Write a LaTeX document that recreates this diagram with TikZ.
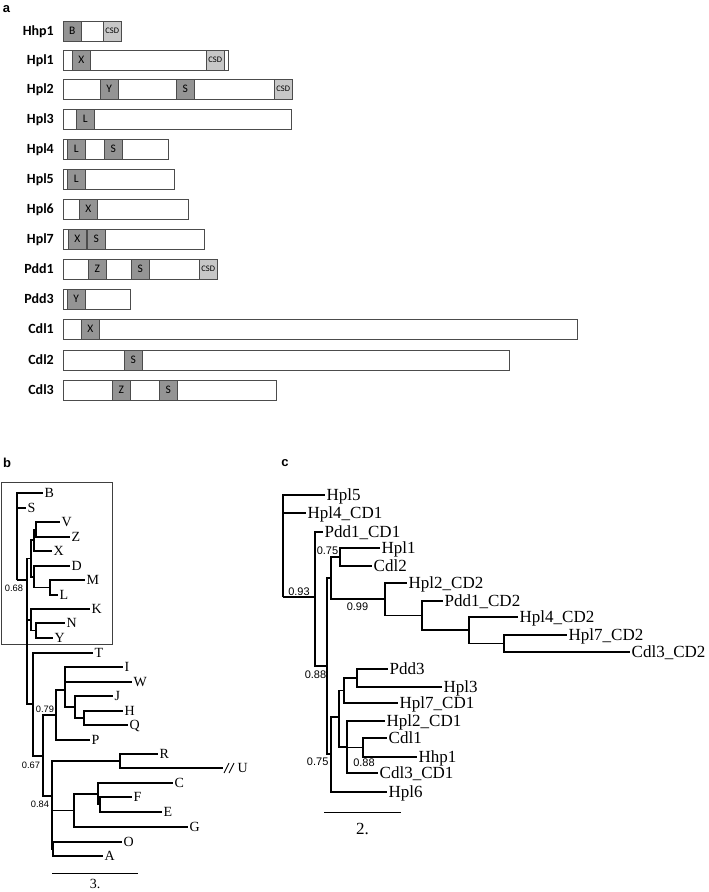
\documentclass[tikz,border=0pt]{standalone}
\usepackage{fontspec}
\setmainfont{Liberation Serif}
\setsansfont{Liberation Sans}
\newfontfamily\calibri{Carlito}

\tikzset{
  protname/.style={anchor=east, inner sep=0pt, text height=9pt, text depth=0pt,
    font=\calibri\bfseries\fontsize{14}{14}\selectfont},
  protbar/.style={draw=black!70, line width=1pt, fill=white, anchor=west,
    minimum height=20pt, inner sep=0pt},
  dombox/.style={protbar, fill=black!42, font=\calibri\fontsize{11.5}{11.5}\selectfont},
  csdbox/.style={protbar, fill=black!22, font=\calibri\fontsize{8.5}{8.5}\selectfont},
  branch/.style={line width=1.4pt},
  bleaf/.style={anchor=west, inner sep=1.5pt, text height=9.3pt, text depth=0pt,
    font=\fontsize{14}{14}\selectfont},
  cleaf/.style={anchor=west, inner sep=1.5pt, text height=11.2pt, text depth=0pt,
    font=\fontsize{17}{17}\selectfont},
  bsupp/.style={inner sep=0pt, font=\sffamily\fontsize{9.3}{9.3}\selectfont},
  csupp/.style={inner sep=0pt, font=\sffamily\fontsize{11}{11}\selectfont},
  panel/.style={inner sep=0pt, font=\sffamily\bfseries\fontsize{13}{13}\selectfont}
}

\begin{document}
\begin{tikzpicture}[x=1pt, y=-1pt]
  \useasboundingbox (0,0) rectangle (709,892);

  % panel letters
  \node[panel] (la) at (6.5,9) {a};
  \node[panel] (lb) at (7,463) {b};
  \node[panel] (lc) at (285,463) {c};

  % ---- a: domain maps
  \foreach \nm/\y/\len in {Hhp1/31/58, Hpl1/60/165, Hpl2/89/228, Hpl3/119/228,
      Hpl4/149/105, Hpl5/179/111, Hpl6/209/125, Hpl7/239/141, Pdd1/269/153,
      Pdd3/299/67, Cdl1/329/514, Cdl2/360/446, Cdl3/390/213}{
    \node[protname] (name\nm) at (54,\y) {\nm};
    \node[protbar, minimum width=\len] (bar\nm) at (63,\y) {};
  }
  \foreach \nm/\y/\x/\lab in {Hhp1/31/63/B, Hpl1/60/72/X, Hpl2/89/100/Y, Hpl2/89/176/S,
      Hpl3/119/76/L, Hpl4/149/67/L, Hpl4/149/104/S, Hpl5/179/67/L, Hpl6/209/79/X,
      Hpl7/239/68/X, Hpl7/239/87/S, Pdd1/269/88/Z, Pdd1/269/131/S, Pdd3/299/67/Y,
      Cdl1/329/81/X, Cdl2/360/124/S, Cdl3/390/112/Z, Cdl3/390/159/S}
    \node[dombox, minimum width=17.5] (\nm\lab) at (\x,\y) {\lab};
  \foreach \nm/\y/\x in {Hhp1/31/103, Hpl1/60/206, Hpl2/89/274, Pdd1/269/199}
    \node[csdbox, minimum width=17.5] (csd\nm) at (\x,\y) {CSD};

  % ---- b: tree
  \draw[line width=0.8pt, draw=black!75] (1,482) rectangle (112,644);
  \foreach \lab/\x/\y in {B/43/493, S/26/508, V/60/522, Z/70/537, X/52/551, D/70/566,
      M/85/580, L/58/595, K/90/609, N/65/623, Y/53/638, T/93/653, I/123/667,
      W/132/682, J/113/696, H/123/711, Q/128/725, P/90/740, R/158/754, C/173/783,
      F/132/797, E/162/812, G/188/827, O/122/842, A/103/856}
    \node[bleaf] (b\lab) at (\x,\y) {\lab};
  \node[bleaf] (bU) at (236,768) {U};
  \coordinate (bUcut) at (223,768);

  \coordinate (bc68) at (17,580);
  \coordinate (bsp) at (27,580);
  \coordinate (bvd) at (31,558.5);
  \coordinate (bvzx) at (34,540);
  \coordinate (bvz) at (36,529.5);
  \coordinate (bdml) at (34,577);
  \coordinate (bml) at (50,587.5);
  \coordinate (bkny) at (31,620);
  \coordinate (bny) at (36,630.5);
  \coordinate (bt) at (33,704);
  \coordinate (b67) at (43,756);
  \coordinate (b79) at (56,715);
  \coordinate (biw) at (65,690);
  \coordinate (bjhq) at (75,707);
  \coordinate (bhq) at (84,718);
  \coordinate (b84) at (52,796);
  \coordinate (bru) at (120,761);
  \coordinate (bcg) at (74,810.5);
  \coordinate (bcfe) at (98,794);
  \coordinate (bfe) at (100,804.5);
  \coordinate (boa) at (53,849);

  \foreach \pa/\ch in {bsp/bc68, bc68/bB.west, bc68/bS.west, bsp/bvd, bsp/bkny, bsp/bt,
      bvd/bvzx, bvd/bdml, bvzx/bvz, bvzx/bX.west, bvz/bV.west, bvz/bZ.west,
      bdml/bD.west, bdml/bml, bml/bM.west, bml/bL.west, bkny/bK.west, bkny/bny,
      bny/bN.west, bny/bY.west, bt/bT.west, bt/b67, b67/b79, b67/b84,
      b79/biw, b79/bP.west, biw/bI.west, biw/bW.west, biw/bjhq, bjhq/bJ.west,
      bjhq/bhq, bhq/bH.west, bhq/bQ.west, b84/bru, b84/bcg, b84/boa,
      bru/bR.west, bru/bUcut, bcg/bcfe, bcg/bG.west, bcfe/bC.west, bcfe/bfe,
      bfe/bF.west, bfe/bE.west, boa/bO.west, boa/bA.west}
    \draw[branch] (\pa) |- (\ch);
  % cut mark
  \draw[line width=0.9pt] (224,773)--(229,763) (229,773)--(234,763);

  \node[bsupp] (bs68) at (14,588) {0.68};
  \node[bsupp] (bs79) at (45,709) {0.79};
  \node[bsupp] (bs67) at (31,765) {0.67};
  \node[bsupp] (bs84) at (40,804) {0.84};

  \coordinate (bsl) at (52,873);
  \coordinate (bsr) at (138,873);
  \draw[line width=1pt] (bsl) -- (bsr);
  \node[inner sep=0pt, font=\fontsize{14}{14}\selectfont] (bscale) at (95,884) {3.};

  % ---- c: tree
  \foreach \nm/\txt/\x/\y in {Hpl5/Hpl5/325/495, Hpl4a/Hpl4\_CD1/306/513,
      Pdd1a/Pdd1\_CD1/323/532, Hpl1/Hpl1/380/548, Cdl2/Cdl2/372/566,
      Hpl2b/Hpl2\_CD2/407/583, Pdd1b/Pdd1\_CD2/443/601, Hpl4b/Hpl4\_CD2/518/617,
      Hpl7b/Hpl7\_CD2/567/635, Cdl3b/Cdl3\_CD2/630/652, Pdd3/Pdd3/388/669,
      Hpl3/Hpl3/442/687, Hpl7a/Hpl7\_CD1/398/703, Hpl2a/Hpl2\_CD1/385/721,
      Cdl1/Cdl1/387/738, Hhp1/Hhp1/417/757, Cdl3a/Cdl3\_CD1/378/773, Hpl6/Hpl6/387/792}
    \node[cleaf] (c\nm) at (\x,\y) {\txt};

  \coordinate (c93) at (283,597);
  \coordinate (c15) at (315,597);
  \coordinate (c27) at (327,666);
  \coordinate (c30) at (331,578);
  \coordinate (c40) at (340,557);
  \coordinate (c85) at (385,599);
  \coordinate (c422) at (422,615.5);
  \coordinate (c469) at (469,630);
  \coordinate (c504) at (504,643.5);
  \coordinate (c331) at (331,754);
  \coordinate (c339) at (339,717);
  \coordinate (c344) at (344,690.5);
  \coordinate (c357) at (357,678);
  \coordinate (c347) at (347,747);
  \coordinate (c363) at (363,747.5);

  \foreach \pa/\ch in {c93/cHpl5.west, c93/cHpl4a.west, c93/c15, c15/cPdd1a.west,
      c15/c27, c27/c30, c27/c331, c30/c40, c30/c85, c40/cHpl1.west, c40/cCdl2.west,
      c85/cHpl2b.west, c85/c422, c422/cPdd1b.west, c422/c469, c469/cHpl4b.west,
      c469/c504, c504/cHpl7b.west, c504/cCdl3b.west, c331/c339, c331/cHpl6.west,
      c339/c344, c339/c347, c344/c357, c344/cHpl7a.west, c357/cPdd3.west,
      c357/cHpl3.west, c347/cHpl2a.west, c347/c363, c347/cCdl3a.west,
      c363/cCdl1.west, c363/cHhp1.west}
    \draw[branch] (\pa) |- (\ch);

  \node[csupp] (cs93) at (299,592) {0.93};
  \node[csupp] (cs75a) at (327.5,551) {0.75};
  \node[csupp] (cs99) at (357.5,607) {0.99};
  \node[csupp] (cs88a) at (315.5,675) {0.88};
  \node[csupp] (cs75b) at (317.7,762) {0.75};
  \node[csupp] (cs88b) at (364,763) {0.88};

  \coordinate (csl) at (324,812);
  \coordinate (csr) at (401,812);
  \draw[line width=1pt] (csl) -- (csr);
  \node[inner sep=0pt, font=\fontsize{17}{17}\selectfont] (cscale) at (362.5,829) {2.};
\end{tikzpicture}
\end{document}
